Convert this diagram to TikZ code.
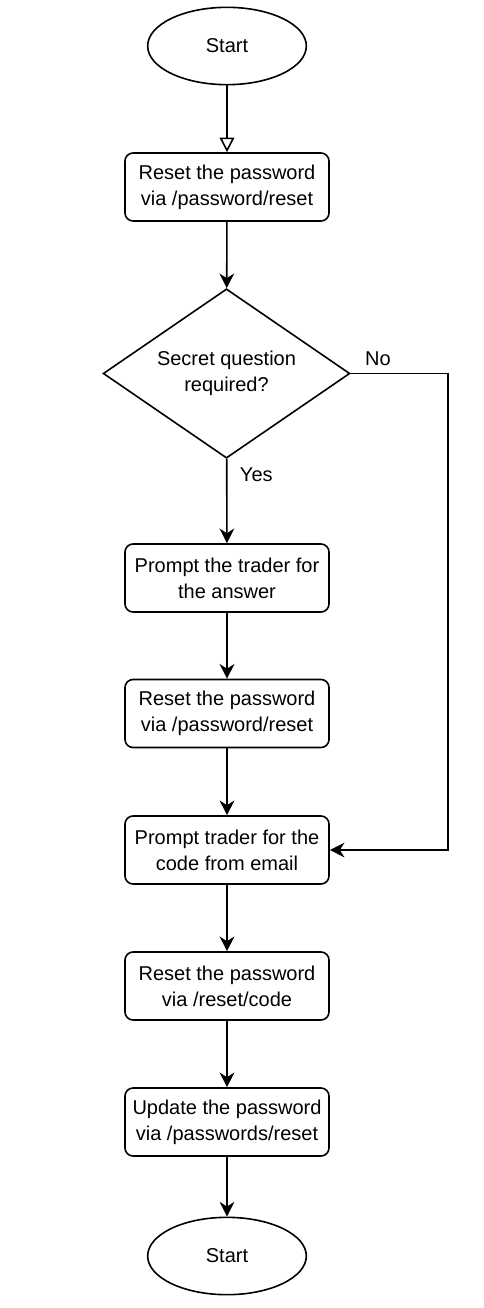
\documentclass[tikz,border=0pt]{standalone}
\usepackage{fontspec}
\setmainfont{Liberation Sans}
\usepackage{tikz}
\usetikzlibrary{shapes.geometric,arrows.meta}
\tikzset{
  terminal/.style={draw,ellipse,line width=1.2pt,minimum width=119pt,minimum height=58pt,inner sep=0pt},
  stepbox/.style={draw,rounded corners=6pt,line width=1.2pt,minimum width=153pt,minimum height=51pt,inner sep=0pt,align=center},
  decision/.style={draw,diamond,aspect=1.46,line width=1.2pt,minimum width=185pt,minimum height=127pt,inner sep=0pt,align=center},
  flow/.style={line width=1.2pt,-{Stealth[length=11pt,width=11pt,inset=3.5pt]}},
  firstflow/.style={line width=1.2pt,-{Triangle[open,length=11pt,width=11pt]}}
}
\begin{document}
\begin{tikzpicture}[x=0.75pt,y=-0.75pt,font=\fontsize{15}{19.5}\selectfont]
      \useasboundingbox (0,0) rectangle (484,1308);
      \node[terminal] (start)          at (227,46)     {Start};
      \node[stepbox]  (reset-pw)       at (227,187)    {Reset the password\\via /password/reset};
      \node[decision] (secret-q)       at (226.5,373.5) {Secret question\\required?};
      \node[stepbox]  (prompt-answer)  at (227,578)    {Prompt the trader for\\the answer};
      \node[stepbox]  (reset-pw-again) at (227,713.5)  {Reset the password\\via /password/reset};
      \node[stepbox]  (prompt-code)    at (227,850)    {Prompt trader for the\\code from email};
      \node[stepbox]  (reset-code)     at (227,986)    {Reset the password\\via /reset/code};
      \node[stepbox]  (update-pw)      at (227,1122)   {Update the password\\via /passwords/reset};
      \node[terminal] (stop)           at (227,1256)   {Start};
      \coordinate (no-turn) at (448,373.5);

      \draw[firstflow] (start) -- (reset-pw);
      \draw[flow] (reset-pw) -- (secret-q);
      \draw[flow] (secret-q) -- node[pos=0.19,right=6pt] {Yes} (prompt-answer);
      \draw[flow] (secret-q) -- node[pos=0.28,above=2pt] {No} (no-turn) |- (prompt-code);
      \draw[flow] (prompt-answer) -- (reset-pw-again);
      \draw[flow] (reset-pw-again) -- (prompt-code);
      \draw[flow] (prompt-code) -- (reset-code);
      \draw[flow] (reset-code) -- (update-pw);
      \draw[flow] (update-pw) -- (stop);
    \end{tikzpicture}
\end{document}
